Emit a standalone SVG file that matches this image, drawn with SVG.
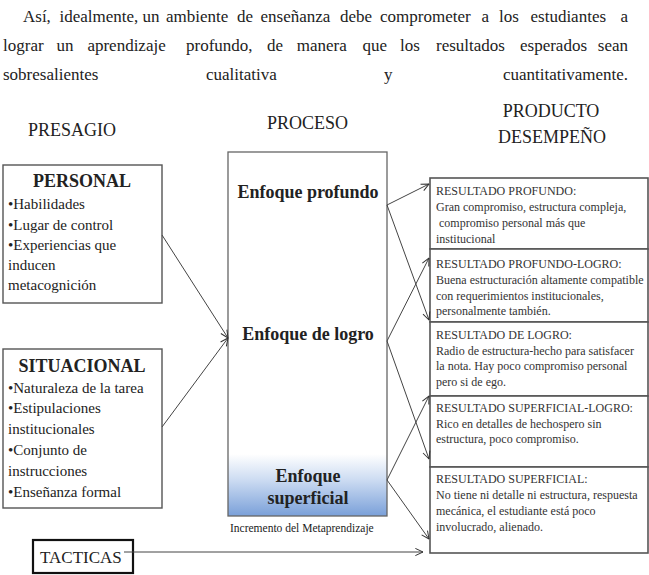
<svg xmlns="http://www.w3.org/2000/svg" width="649" height="575" viewBox="0 0 649 575">
<style>
text{font-family:"Liberation Serif","Times New Roman",serif;fill:#222}
.p{font-size:17px}
.h{font-size:18px}
.b{font-weight:bold;font-size:18px}
.l{font-size:15px}
.r{font-size:12px;fill:#333}
.box{fill:#fff;stroke:#555;stroke-width:1.4}
.rbox{fill:#fff;stroke:#555;stroke-width:1.6}
.c{stroke:#444;stroke-width:1;fill:none}
</style>
<defs>
<linearGradient id="g" x1="0" y1="0" x2="0" y2="1">
<stop offset="0" stop-color="#fff"/>
<stop offset="0.83" stop-color="#fff"/>
<stop offset="0.9" stop-color="#cddcf2"/>
<stop offset="1" stop-color="#7aa0d9"/>
</linearGradient>
<marker id="a" viewBox="0 0 10 10" refX="9.5" refY="5" markerWidth="9" markerHeight="9" markerUnits="userSpaceOnUse" orient="auto">
<path d="M1,1 L9.5,5 L1,9" fill="none" stroke="#333" stroke-width="1.1"/>
</marker>
</defs>

<g id="paragraph">
<text class="p" y="22"><tspan x="23">Así,</tspan><tspan x="59.5">idealmente,</tspan><tspan x="142.5">un</tspan><tspan x="166">ambiente</tspan><tspan x="237">de</tspan><tspan x="260.5">enseñanza</tspan><tspan x="340">debe</tspan><tspan x="380">comprometer</tspan><tspan x="481.5">a</tspan><tspan x="499">los</tspan><tspan x="530.5">estudiantes</tspan></text>
<text class="p" y="22" x="628" text-anchor="end">a</text>
<text class="p" y="51"><tspan x="3">lograr</tspan><tspan x="56.6">un</tspan><tspan x="87.4">aprendizaje</tspan><tspan x="186">profundo,</tspan><tspan x="267">de</tspan><tspan x="296.8">manera</tspan><tspan x="362.5">que</tspan><tspan x="400">los</tspan><tspan x="436">resultados</tspan><tspan x="520">esperados</tspan></text>
<text class="p" y="51" x="628" text-anchor="end">sean</text>
<text class="p" y="80"><tspan x="3">sobresalientes</tspan><tspan x="206">cualitativa</tspan><tspan x="384">y</tspan></text>
<text class="p" y="80" x="628" text-anchor="end">cuantitativamente.</text>
</g>

<g id="headers">
<text class="h" x="28" y="136">PRESAGIO</text>
<text class="h" x="267" y="129">PROCESO</text>
<text class="h" x="551" y="117" text-anchor="middle">PRODUCTO</text>
<text class="h" x="552" y="143" text-anchor="middle">DESEMPEÑO</text>
</g>

<g id="personal">
<rect class="box" x="3" y="165" width="159" height="138"/>
<text class="b" x="82" y="187" text-anchor="middle">PERSONAL</text>
<text class="l" x="8" y="209">•Habilidades</text>
<text class="l" x="8" y="230">•Lugar de control</text>
<text class="l" x="8" y="250">•Experiencias que</text>
<text class="l" x="8" y="270">inducen</text>
<text class="l" x="8" y="290">metacognición</text>
</g>

<g id="situacional">
<rect class="box" x="3" y="349" width="159" height="159"/>
<text class="b" x="82" y="372" text-anchor="middle">SITUACIONAL</text>
<text class="l" x="8" y="393">•Naturaleza de la tarea</text>
<text class="l" x="8" y="413">•Estipulaciones</text>
<text class="l" x="8" y="434">institucionales</text>
<text class="l" x="8" y="455">•Conjunto de</text>
<text class="l" x="8" y="476">instrucciones</text>
<text class="l" x="8" y="497">•Enseñanza formal</text>
</g>

<g id="tacticas">
<rect x="33" y="540" width="100" height="33" fill="#fff" stroke="#111" stroke-width="2.2"/>
<text x="40" y="563" style="font-size:17px">TACTICAS</text>
</g>

<g id="proceso">
<rect x="228" y="152" width="159" height="364" fill="url(#g)" stroke="#666" stroke-width="1.3"/>
<text class="b" x="308" y="198" text-anchor="middle">Enfoque profundo</text>
<text class="b" x="308" y="340" text-anchor="middle">Enfoque de logro</text>
<text class="b" x="308" y="482" text-anchor="middle">Enfoque</text>
<text class="b" x="308" y="504" text-anchor="middle">superficial</text>
<text x="230" y="532" style="font-size:11.5px">Incremento del Metaprendizaje</text>
</g>

<g id="r1">
<rect class="rbox" x="430" y="178" width="218" height="71"/>
<text class="r" x="436" y="195">RESULTADO PROFUNDO:</text>
<text class="r" x="436" y="211">Gran compromiso, estructura compleja,</text>
<text class="r" x="439" y="227">compromiso personal más que</text>
<text class="r" x="436" y="243">institucional</text>
</g>
<g id="r2">
<rect class="rbox" x="430" y="249" width="218" height="73"/>
<text class="r" x="436" y="268">RESULTADO PROFUNDO-LOGRO:</text>
<text class="r" x="436" y="284">Buena estructuración altamente compatible</text>
<text class="r" x="436" y="300">con requerimientos institucionales,</text>
<text class="r" x="436" y="315">personalmente también.</text>
</g>
<g id="r3">
<rect class="rbox" x="430" y="322" width="218" height="74"/>
<text class="r" x="436" y="339">RESULTADO DE LOGRO:</text>
<text class="r" x="436" y="355">Radio de estructura-hecho para satisfacer</text>
<text class="r" x="436" y="370">la nota. Hay poco compromiso personal</text>
<text class="r" x="436" y="386">pero si de ego.</text>
</g>
<g id="r4">
<rect class="rbox" x="430" y="396" width="218" height="71"/>
<text class="r" x="436" y="412">RESULTADO SUPERFICIAL-LOGRO:</text>
<text class="r" x="436" y="428">Rico en detalles de hechospero sin</text>
<text class="r" x="436" y="443">estructura, poco compromiso.</text>
</g>
<g id="r5">
<rect class="rbox" x="430" y="467" width="218" height="86"/>
<text class="r" x="436" y="483">RESULTADO SUPERFICIAL:</text>
<text class="r" x="436" y="499">No tiene ni detalle ni estructura, respuesta</text>
<text class="r" x="436" y="515">mecánica, el estudiante está poco</text>
<text class="r" x="436" y="531">involucrado, alienado.</text>
</g>

<g id="connectors">
<line class="c" x1="162" y1="235" x2="228" y2="338" marker-end="url(#a)"/>
<line class="c" x1="162" y1="427" x2="228" y2="338" marker-end="url(#a)"/>
<line class="c" x1="387" y1="205" x2="429" y2="184" marker-end="url(#a)"/>
<line class="c" x1="387" y1="205" x2="429" y2="320" marker-end="url(#a)"/>
<line class="c" x1="387" y1="341" x2="429" y2="258" marker-end="url(#a)"/>
<line class="c" x1="387" y1="341" x2="429" y2="459" marker-end="url(#a)"/>
<line class="c" x1="387" y1="480" x2="429" y2="396" marker-end="url(#a)"/>
<line class="c" x1="387" y1="480" x2="429" y2="539" marker-end="url(#a)"/>
<line class="c" x1="124" y1="552" x2="423" y2="552" marker-end="url(#a)"/>
</g>
</svg>
